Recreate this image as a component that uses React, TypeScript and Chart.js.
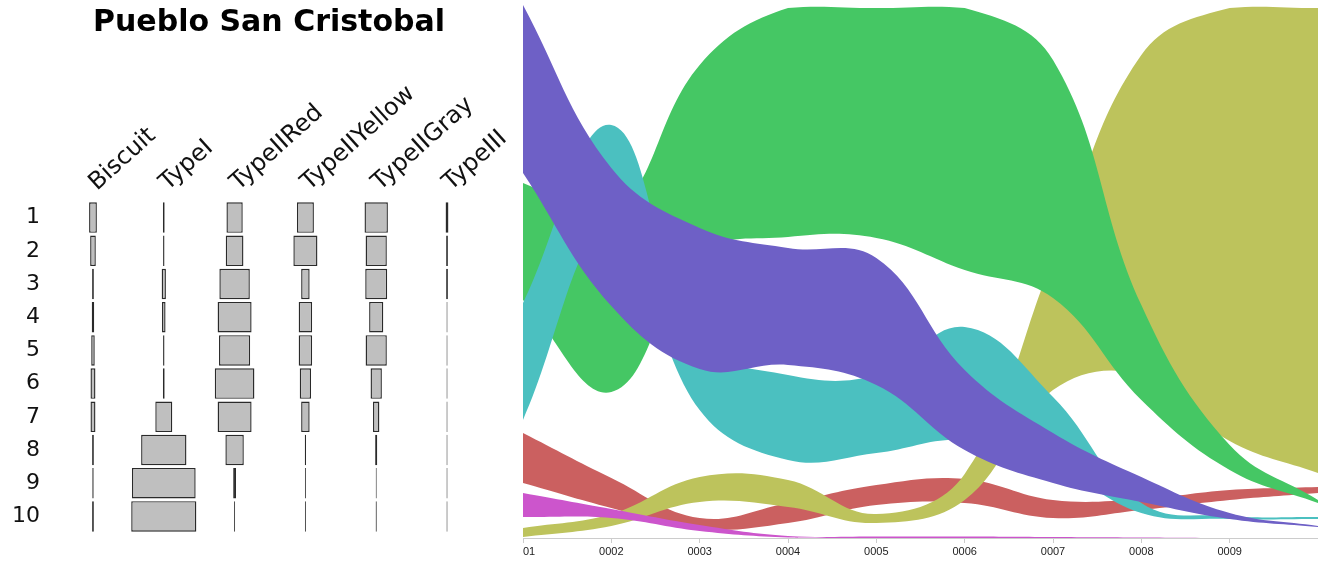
import React, { useEffect, useRef } from "react";
import { Chart, registerables } from "chart.js";

Chart.register(...registerables);

// ---------- Left panel: battleship (seriation) plot ----------
const TITLE = "Pueblo San Cristobal";
const ROWS = ["1", "2", "3", "4", "5", "6", "7", "8", "9", "10"];
const TYPES = ["Biscuit", "TypeI", "TypeIIRed", "TypeIIYellow", "TypeIIGray", "TypeIII"];
// percentage of each type per row
const biscuit = [11, 8, 2.5, 3.5, 5, 7, 7, 2.5, 2, 2.5];
const typeI = [2.5, 2, 6, 5, 2, 2.5, 24, 64, 90, 92];
const typeIIRed = [23, 25, 43, 48, 44, 56, 48, 26, 4, 1.4];
const typeIIYellow = [24, 34, 12, 19, 19, 16, 12, 1.8, 1.4, 1.4];
const typeIIGray = [33, 30, 31, 20, 30, 16, 9, 3, 1.4, 1.6];
const typeIII = [4, 2.5, 2.5, 1.4, 1.4, 1.4, 1.4, 1.4, 1.4, 1.4];
const TYPE_VALUES = [biscuit, typeI, typeIIRed, typeIIYellow, typeIIGray, typeIII];

// ---------- Right panel: ribbon (band) plot ----------
const X_LABELS = ["0001", "0002", "0003", "0004", "0005", "0006", "0007", "0008", "0009"];
const X_POS = [1, 2, 3, 4, 5, 6, 7, 8, 9, 10];

const purpleTop = [533, 370, 310, 290, 280, 168, 105, 61, 25, 12];
const purpleBottom = [365, 232, 169, 173, 153, 88, 55, 36, 19, 11];
const cyanTop = [235, 413, 198, 163, 163, 211, 141, 35, 22, 21];
const cyanBottom = [118, 313, 128, 78, 85, 98, 73, 25, 19, 19];
const greenTop = [355, 323, 473, 530, 530, 530, 478, 233, 93, 38];
const greenBottom = [238, 146, 283, 301, 300, 268, 240, 138, 68, 35];
const magentaTop = [45, 29, 13, 2, 1.5, 1.5, 1, 0.5, 0, 0];
const magentaBottom = [21, 20, 7, 0.5, 0, 0, 0, 0, 0, 0];
const oliveTop = [10, 24, 61, 58, 24, 64, 278, 483, 530, 530];
const oliveBottom = [1, 12, 36, 31, 15, 38, 148, 163, 97, 65];
const redTop = [105, 60, 20, 35, 53, 59, 38, 39, 48, 51];
const redBottom = [55, 30, 9, 15, 33, 35, 20, 28, 38, 45];

// front-to-back
const BANDS = [
  { name: "purple", color: "#6E60C6", top: purpleTop, bottom: purpleBottom },
  { name: "cyan", color: "#4BC0C0", top: cyanTop, bottom: cyanBottom },
  { name: "green", color: "#45C764", top: greenTop, bottom: greenBottom },
  { name: "magenta", color: "#CC55CC", top: magentaTop, bottom: magentaBottom },
  { name: "olive", color: "#BDC35C", top: oliveTop, bottom: oliveBottom },
  { name: "red", color: "#CB6060", top: redTop, bottom: redBottom },
];

function LeftChart() {
  const ref = useRef<HTMLCanvasElement | null>(null);
  useEffect(() => {
    if (!ref.current) return;
    const chart = new Chart(ref.current, {
      type: "bar",
      data: {
        labels: ROWS,
        datasets: TYPE_VALUES.map((vals, i) => ({
          label: TYPES[i],
          data: vals.map((v) => [i - v / 200, i + v / 200]),
          backgroundColor: "#bfbfbf",
          borderColor: "#2a2a2a",
          borderWidth: 1.4,
          borderSkipped: false,
          grouped: false,
          categoryPercentage: 1,
          barPercentage: 0.92,
        })) as any,
      },
      options: {
        indexAxis: "y",
        animation: false,
        responsive: false,
        layout: { padding: { left: 0, right: 0, top: 0, bottom: 28 } },
        plugins: {
          legend: { display: false },
          tooltip: { enabled: false },
          title: {
            display: true,
            text: TITLE,
            color: "#000",
            font: { family: "DejaVu Sans", size: 30, weight: "bold" },
            padding: { top: 5, bottom: 0 },
          },
        },
        scales: {
          x: {
            type: "linear",
            position: "top",
            min: -0.607,
            max: 6.285,
            grid: { display: false, drawTicks: false },
            border: { display: false },
            afterBuildTicks: (s: any) => {
              s.ticks = TYPES.map((_, i) => ({ value: i }));
            },
            afterFit: (s: any) => {
              s.height = 160;
            },
            ticks: {
              autoSkip: false,
              minRotation: 42,
              maxRotation: 42,
              padding: 4,
              labelOffset: 19,
              color: "#111",
              font: { family: "DejaVu Sans", size: 24 },
              callback: (v: any) => TYPES[v] ?? "",
            },
          },
          y: {
            type: "category",
            grid: { display: false, drawTicks: false },
            border: { display: false },
            afterFit: (s: any) => {
              s.width = 50;
            },
            ticks: {
              padding: 10,
              color: "#111",
              font: { family: "DejaVu Sans", size: 22 },
            },
          },
        },
      } as any,
    });
    return () => chart.destroy();
  }, []);
  return (
    <canvas
      ref={ref}
      width={538}
      height={561}
      style={{ position: "absolute", left: 0, top: 0, width: 538, height: 561 }}
    />
  );
}

function RightChart() {
  const ref = useRef<HTMLCanvasElement | null>(null);
  useEffect(() => {
    if (!ref.current) return;
    const datasets: any[] = [];
    BANDS.forEach((b) => {
      datasets.push({
        label: b.name + " bottom",
        data: X_POS.map((x, i) => ({ x, y: b.bottom[i] })),
        borderColor: "transparent",
        borderWidth: 0,
        pointRadius: 0,
        fill: false,
        tension: 0.4,
      });
      datasets.push({
        label: b.name,
        data: X_POS.map((x, i) => ({ x, y: b.top[i] })),
        borderColor: "transparent",
        borderWidth: 0,
        pointRadius: 0,
        backgroundColor: b.color,
        fill: "-1",
        tension: 0.4,
      });
    });
    const chart = new Chart(ref.current, {
      type: "line",
      data: { datasets },
      options: {
        animation: false,
        responsive: false,
        layout: { padding: { top: 5, left: 0, right: 0, bottom: 0 } },
        plugins: {
          legend: { display: false },
          tooltip: { enabled: false },
        },
        scales: {
          x: {
            type: "linear",
            min: 1,
            max: 10,
            afterBuildTicks: (s: any) => {
              s.ticks = X_LABELS.map((_, i) => ({ value: i + 1 }));
            },
            afterFit: (s: any) => {
              s.paddingLeft = 0;
              s.paddingRight = 0;
              s.height = 23;
            },
            grid: { drawOnChartArea: false, drawTicks: true, tickLength: 5, color: "#cccccc" },
            border: { display: true, color: "#cccccc" },
            ticks: {
              autoSkip: false,
              maxRotation: 0,
              padding: 2,
              color: "#222",
              font: { family: "Liberation Sans", size: 11 },
              callback: (v: any) => X_LABELS[Number(v) - 1] ?? "",
            },
          },
          y: { display: false, min: 0, max: 533 },
        },
      } as any,
    });
    return () => chart.destroy();
  }, []);
  return (
    <canvas
      ref={ref}
      width={795}
      height={561}
      style={{ position: "absolute", left: 523, top: 0, width: 795, height: 561 }}
    />
  );
}

export default function App() {
  return (
    <div
      style={{
        position: "absolute",
        left: 0,
        top: 0,
        width: 1322,
        height: 561,
        background: "#fff",
        overflow: "hidden",
      }}
    >
      <LeftChart />
      <RightChart />
    </div>
  );
}
